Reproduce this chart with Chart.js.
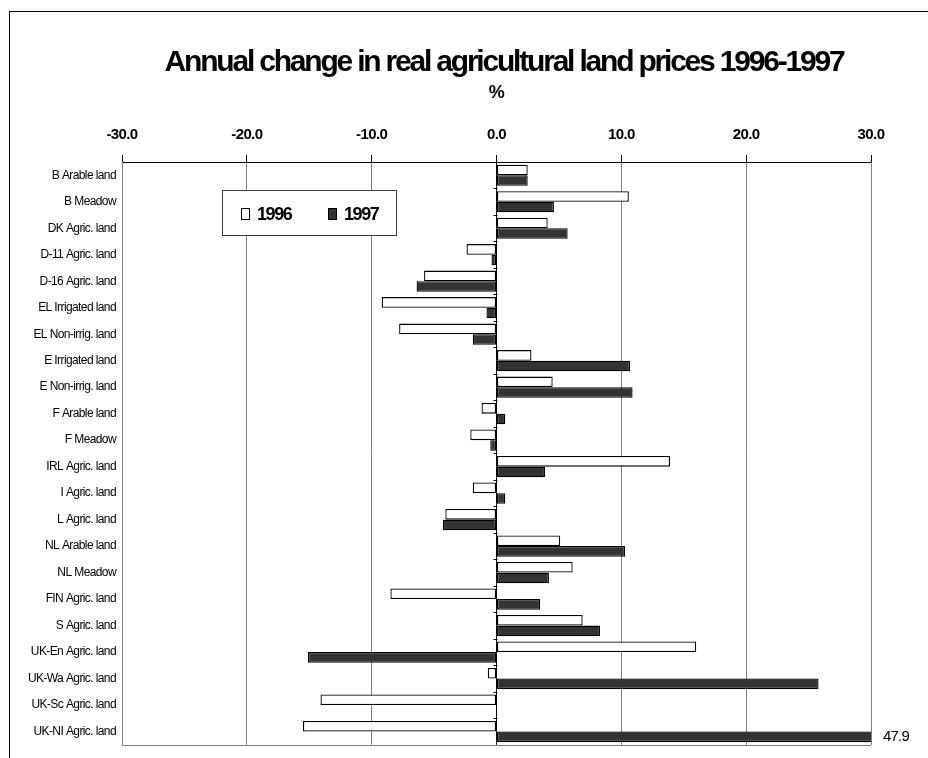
<!DOCTYPE html>
<html>
<head>
<meta charset="utf-8">
<script src="https://cdn.jsdelivr.net/npm/chart.js@4.4.0/dist/chart.umd.min.js"></script>
<style>
  body { margin: 0; background: #fff; }
  #wrap { width: 928px; height: 758px; }
</style>
</head>
<body>
<div id="wrap"><canvas id="landPrices" width="928" height="758"></canvas></div>
<script>
// data
const categories = [
  'B Arable land', 'B Meadow', 'DK Agric. land', 'D-11 Agric. land', 'D-16 Agric. land',
  'EL Irrigated land', 'EL Non-irrig. land', 'E Irrigated land', 'E Non-irrig. land',
  'F Arable land', 'F Meadow', 'IRL Agric. land', 'I Agric. land', 'L Agric. land',
  'NL Arable land', 'NL Meadow', 'FIN Agric. land', 'S Agric. land',
  'UK-En Agric. land', 'UK-Wa Agric. land', 'UK-Sc Agric. land', 'UK-NI Agric. land'
];
const values1996 = [2.5, 10.6, 4.1, -2.4, -5.8, -9.2, -7.8, 2.8, 4.5, -1.2, -2.1, 13.9,
  -1.9, -4.1, 5.1, 6.1, -8.5, 6.9, 16.0, -0.7, -14.1, -15.5];
const values1997 = [2.5, 4.6, 5.7, -0.4, -6.4, -0.8, -1.9, 10.7, 10.9, 0.7, -0.5, 3.9,
  0.7, -4.3, 10.3, 4.2, 3.5, 8.3, -15.1, 25.8, null, 47.9];
const seriesLabels = ['1996', '1997'];
const xTicks = [-30, -20, -10, 0, 10, 20, 30];

const FONT = "'Liberation Sans', Arial, sans-serif";

// title, frame, legend box, overflow labels and the small ticks on the zero line
const decorPlugin = {
  id: 'decor',
  beforeDraw(chart) {
    chart.ctx.letterSpacing = '-0.6px';
  },
  afterDraw(chart) {
    const ctx = chart.ctx;
    const area = chart.chartArea;
    const xs = chart.scales.x;
    const ys = chart.scales.y;
    ctx.save();

    // outer frame
    ctx.strokeStyle = '#000';
    ctx.lineWidth = 1;
    ctx.strokeRect(9.5, 11.5, 1000, 1000);

    // title
    ctx.fillStyle = '#000';
    ctx.font = 'bold 30px ' + FONT;
    ctx.letterSpacing = '-2.2px';
    ctx.textAlign = 'center';
    ctx.textBaseline = 'alphabetic';
    ctx.fillText('Annual change in real agricultural land prices 1996-1997', 504, 71);

    // bottom edge of plot area
    ctx.strokeStyle = '#808080';
    ctx.beginPath();
    ctx.moveTo(area.left, Math.round(area.bottom) + 0.5);
    ctx.lineTo(area.right, Math.round(area.bottom) + 0.5);
    ctx.stroke();

    // small category ticks on the zero line
    const x0 = Math.round(xs.getPixelForValue(0)) + 0.5;
    const step = ys.getPixelForValue(1) - ys.getPixelForValue(0);
    ctx.strokeStyle = '#000';
    ctx.beginPath();
    for (let i = 1; i < categories.length; i++) {
      const y = Math.round(ys.getPixelForValue(i) - step / 2) + 0.5;
      ctx.moveTo(x0 - 4, y);
      ctx.lineTo(x0, y);
    }
    ctx.stroke();

    // values beyond the axis max
    ctx.font = '15px ' + FONT;
    ctx.letterSpacing = '-0.8px';
    ctx.textAlign = 'left';
    ctx.textBaseline = 'middle';
    chart.data.datasets.forEach((ds, di) => {
      const meta = chart.getDatasetMeta(di);
      ds.data.forEach((v, i) => {
        if (v != null && v > xs.max) {
          ctx.fillText(v.toFixed(1), area.right + 12, meta.data[i].y);
        }
      });
    });

    // legend box
    const lx = 222, ly = 190, lw = 174, lh = 45;
    ctx.fillStyle = '#fff';
    ctx.fillRect(lx, ly, lw, lh);
    ctx.strokeStyle = '#404040';
    ctx.strokeRect(lx + 0.5, ly + 0.5, lw, lh);
    ctx.font = 'bold 18px ' + FONT;
    ctx.letterSpacing = '-1.4px';
    ctx.textBaseline = 'middle';
    const itemX = [241, 328];
    chart.data.datasets.forEach((ds, di) => {
      const x = itemX[di];
      ctx.fillStyle = ds.backgroundColor;
      ctx.fillRect(x, 208, 9, 12);
      ctx.strokeStyle = '#000';
      ctx.strokeRect(x + 0.5, 208.5, 8, 11);
      ctx.fillStyle = '#000';
      ctx.fillText(ds.label, x + 16, 215);
    });

    ctx.restore();
  }
};

new Chart(document.getElementById('landPrices'), {
  type: 'bar',
  data: {
    labels: categories,
    datasets: [
      {
        label: seriesLabels[0],
        data: values1996,
        backgroundColor: '#ffffff',
        borderColor: '#000000',
        borderWidth: 1.3,
        borderSkipped: false,
        categoryPercentage: 0.8,
        barPercentage: 1.0
      },
      {
        label: seriesLabels[1],
        data: values1997,
        backgroundColor: '#333333',
        borderColor: '#000000',
        borderWidth: 1.3,
        borderSkipped: false,
        categoryPercentage: 0.8,
        barPercentage: 1.0
      }
    ]
  },
  options: {
    indexAxis: 'y',
    responsive: false,
    animation: false,
    layout: { padding: { top: 80, right: 57, bottom: 13, left: 0 } },
    plugins: {
      legend: { display: false },
      title: { display: false },
      tooltip: { enabled: false }
    },
    scales: {
      x: {
        position: 'top',
        min: -30,
        max: 30,
        afterFit(scale) { scale.height = 82; },
        afterBuildTicks(scale) { scale.ticks = xTicks.map(v => ({ value: v })); },
        title: {
          display: true,
          text: '%',
          color: '#000',
          font: { family: FONT, size: 18, weight: 'bold' },
          padding: { top: 2, bottom: 0 }
        },
        ticks: {
          color: '#000',
          padding: 11,
          font: { family: FONT, size: 15, weight: 'bold' },
          callback: v => Number(v).toFixed(1)
        },
        grid: {
          color: c => (c.tick && c.tick.value === 0 ? '#000' : '#808080'),
          tickColor: '#000',
          tickLength: 7,
          lineWidth: 1
        },
        border: { display: true, color: '#000', width: 1 }
      },
      y: {
        afterFit(scale) { scale.width = 122; },
        ticks: {
          color: '#000',
          padding: 6,
          font: { family: FONT, size: 12 }
        },
        grid: { display: false, drawTicks: false },
        border: { display: true, color: '#808080', width: 1 }
      }
    }
  },
  plugins: [decorPlugin]
});
</script>
</body>
</html>
